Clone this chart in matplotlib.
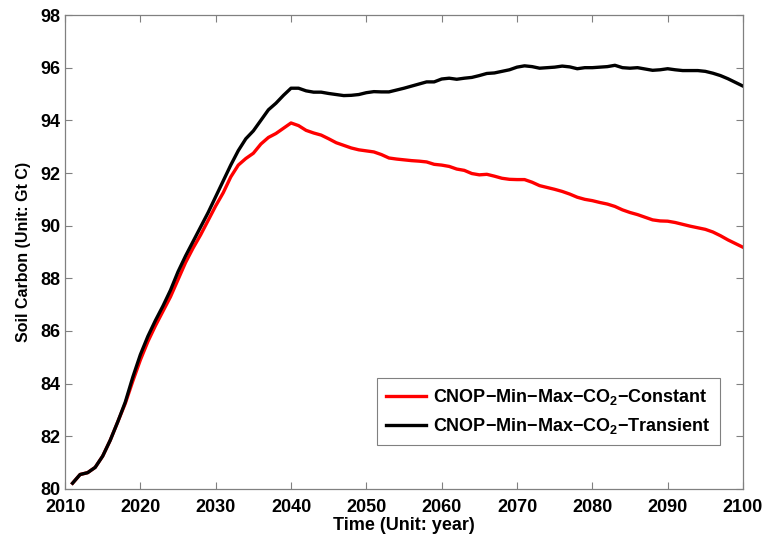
import matplotlib
matplotlib.use("Agg")
import matplotlib.pyplot as plt

plt.rcParams['font.family'] = ['Liberation Sans', 'DejaVu Sans']
plt.rcParams['font.weight'] = 'bold'
plt.rcParams['mathtext.fontset'] = 'custom'
plt.rcParams['mathtext.rm'] = 'Liberation Sans:bold'
plt.rcParams['mathtext.bf'] = 'Liberation Sans:bold'
plt.rcParams['mathtext.default'] = 'bf'

years = list(range(2011, 2101))

transient = [
    80.22, 80.55, 80.62, 80.82, 81.25, 81.85, 82.55, 83.30, 84.25, 85.10,
    85.80, 86.40, 86.95, 87.55, 88.25, 88.85, 89.40, 89.95, 90.50, 91.10,
    91.70, 92.30, 92.85, 93.30, 93.60, 94.00, 94.40, 94.65, 94.95, 95.22,
    95.22, 95.12, 95.07, 95.07, 95.02, 94.98, 94.94, 94.95, 94.98, 95.05,
    95.09, 95.08, 95.08, 95.15, 95.22, 95.30, 95.38, 95.46, 95.46, 95.57,
    95.60, 95.56, 95.60, 95.63, 95.70, 95.78, 95.80, 95.86, 95.92, 96.02,
    96.07, 96.04, 95.98, 96.00, 96.02, 96.06, 96.03, 95.96, 96.00, 96.00,
    96.02, 96.04, 96.09, 96.00, 95.98, 96.00, 95.95, 95.90, 95.92, 95.96,
    95.92, 95.89, 95.89, 95.89, 95.86, 95.79, 95.70, 95.58, 95.44, 95.30,
]

constant = [
    80.22, 80.55, 80.62, 80.82, 81.25, 81.85, 82.55, 83.25, 84.10, 84.90,
    85.60, 86.20, 86.75, 87.30, 87.95, 88.60, 89.15, 89.65, 90.20, 90.75,
    91.25, 91.85, 92.30, 92.55, 92.75, 93.10, 93.35, 93.50, 93.70, 93.90,
    93.80, 93.62, 93.52, 93.44, 93.30, 93.15, 93.05, 92.95, 92.88, 92.84,
    92.80, 92.70, 92.57, 92.53, 92.50, 92.47, 92.45, 92.42, 92.33, 92.30,
    92.25, 92.15, 92.10, 91.98, 91.93, 91.95, 91.88, 91.80, 91.76, 91.75,
    91.75, 91.65, 91.52, 91.45, 91.38, 91.30, 91.20, 91.08, 91.00, 90.95,
    90.88, 90.82, 90.73, 90.60, 90.50, 90.42, 90.32, 90.22, 90.18, 90.17,
    90.12, 90.05, 89.98, 89.92, 89.86, 89.76, 89.62, 89.46, 89.32, 89.18,
]

xticks = list(range(2010, 2101, 10))
yticks = list(range(80, 99, 2))

fig = plt.figure(figsize=(7.75, 5.36), dpi=100)
ax = fig.add_axes([0.0839, 0.0877, 0.8748, 0.8843])

ax.plot(years, constant, color='#ff0000', lw=2.4,
        label='CNOP\u2212Min\u2212Max\u2212CO$_2$\u2212Constant')
ax.plot(years, transient, color='#000000', lw=2.4,
        label='CNOP\u2212Min\u2212Max\u2212CO$_2$\u2212Transient')

ax.set_xlim(2010, 2100)
ax.set_ylim(80, 98)
ax.set_xticks(xticks)
ax.set_yticks(yticks)
ax.tick_params(direction='in', length=5, width=0.8, color='#808080',
               top=True, right=True, labelsize=13)
ax.tick_params(axis='x', pad=7.5)
ax.tick_params(axis='y', pad=3)
for lab in ax.get_xticklabels() + ax.get_yticklabels():
    lab.set_fontweight('bold')
for sp in ax.spines.values():
    sp.set_color('#808080')
    sp.set_linewidth(0.9)

ax.set_xlabel('Time (Unit: year)', fontsize=13, fontweight='bold', labelpad=0.5)
ax.set_ylabel('Soil Carbon (Unit: Gt C)', fontsize=11.5, fontweight='bold', labelpad=7)

leg = ax.legend(loc='lower right', bbox_to_anchor=(0.966, 0.093),
                borderaxespad=0, fancybox=False, framealpha=1,
                edgecolor='#808080', handlelength=2.2,
                handletextpad=0.4, borderpad=0.5, labelspacing=0.5,
                prop={'weight': 'bold', 'size': 13})
leg.get_frame().set_linewidth(0.8)

fig.savefig('out.png', dpi=100, facecolor='white')
